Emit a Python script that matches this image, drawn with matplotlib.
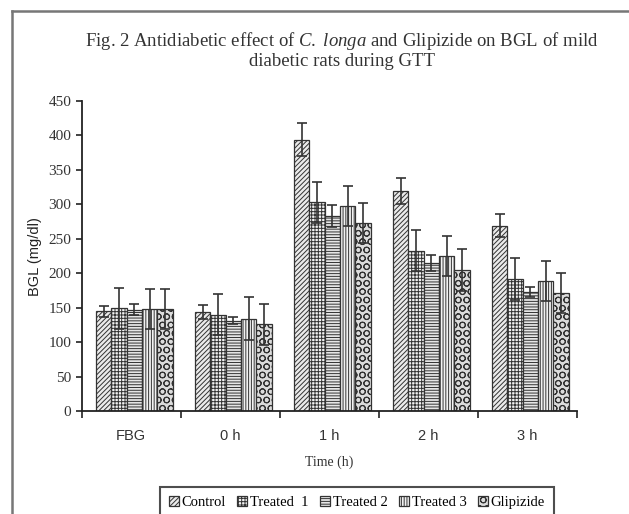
import numpy as np
import matplotlib.pyplot as plt
from matplotlib.lines import Line2D

# Data
times = ['FBG', '0 h', '1 h', '2 h', '3 h']
groups = ['Control', 'Treated  1', 'Treated 2', 'Treated 3', 'Glipizide']

control = [145, 144, 394, 320, 269]
treated1 = [149, 140, 303, 233, 192]
treated2 = [147, 131, 283, 215, 173]
treated3 = [148, 134, 298, 225, 189]
glipizide = [148, 126, 273, 205, 171]

control_err = [8, 10, 24, 19, 17]
treated1_err = [30, 30, 30, 30, 30]
treated2_err = [8, 5, 16, 11, 7]
treated3_err = [29, 31, 29, 29, 29]
glipizide_err = [29, 30, 29, 31, 29]

values = [control, treated1, treated2, treated3, glipizide]
errors = [control_err, treated1_err, treated2_err, treated3_err, glipizide_err]
hatches = ['///////', '+++++', '------', '||||||', 'OO']
faces = ['#ebebeb', '#f2f2f2', '#e6e6e6', '#f2f2f2', '#dcdcdc']

plt.rcParams['hatch.color'] = '#4a4a4a'
plt.rcParams['hatch.linewidth'] = 0.7
plt.rcParams['mathtext.fontset'] = 'custom'
plt.rcParams['mathtext.rm'] = 'Liberation Serif'
plt.rcParams['mathtext.it'] = 'Liberation Serif:italic'

fig = plt.figure(figsize=(6.29, 5.14), dpi=100)
ax = fig.add_axes([0.130, 0.200, 0.787, 0.6035])

x = np.arange(len(times)) + 0.5
w = 0.155
for i in range(5):
    pos = x + (i - 2) * w + 0.03
    ax.bar(pos, values[i], w, facecolor=faces[i], edgecolor='#333333',
           linewidth=0.9, hatch=hatches[i], label=groups[i], zorder=2)
    ax.errorbar(pos, values[i], yerr=errors[i], fmt='none', ecolor='#333333',
                elinewidth=1.2, capsize=3.5, capthick=1.2, zorder=3)

ax.set_xlim(0, 5)
ax.set_ylim(0, 450)
ax.set_yticks(range(0, 451, 50))
ax.set_xticks(np.arange(0, 6))
ax.set_xticklabels([])
ax.set_xticks(x, minor=True)
ax.set_xticklabels(times, minor=True, fontsize=10.5, family='Liberation Sans', color='#333333')
ax.tick_params(axis='x', which='minor', length=0, pad=13)
ax.tick_params(axis='x', which='major', length=5, width=1.2, color='#222222')
ax.tick_params(axis='y', length=4, width=1.2, color='#222222', labelsize=11, labelcolor='#333333')
for lab in ax.get_yticklabels():
    lab.set_family('Liberation Serif')
for s in ['top', 'right']:
    ax.spines[s].set_visible(False)
for s in ['left', 'bottom']:
    ax.spines[s].set_linewidth(1.3)
    ax.spines[s].set_color('#222222')

ax.set_ylabel('BGL (mg/dl)', fontsize=10.5, family='Liberation Sans', color='#222222', labelpad=5)
ax.set_xlabel('Time (h)', fontsize=10, family='Liberation Serif', color='#333333', labelpad=9)

fig.text(0.544, 0.920, r'Fig. 2 Antidiabetic effect of $C.\ longa$ and Glipizide on BGL of mild',
         ha='center', va='center', fontsize=13.5, family='Liberation Serif', color='#333333')
fig.text(0.544, 0.881, 'diabetic rats during GTT',
         ha='center', va='center', fontsize=13.5, family='Liberation Serif', color='#333333')

# outer frame (left and top edges visible)
fig.add_artist(Line2D([12 / 629, 12 / 629], [0, 1 - 11 / 514], transform=fig.transFigure,
                      color='#777777', linewidth=1.8))
fig.add_artist(Line2D([12 / 629, 1], [1 - 11 / 514, 1 - 11 / 514], transform=fig.transFigure,
                      color='#777777', linewidth=1.8))

leg = ax.legend(loc='upper left', bbox_to_anchor=(160 / 629, 1 - 487 / 514),
                bbox_transform=fig.transFigure, ncol=5, frameon=True, fancybox=False,
                prop={'family': 'Liberation Serif', 'size': 10.5}, handlelength=0.7,
                handleheight=0.7, handletextpad=0.2, columnspacing=0.75,
                borderpad=0.6, borderaxespad=0)
leg.get_frame().set_edgecolor('#222222')
leg.get_frame().set_linewidth(1.5)

fig.savefig('out.png', dpi=100)
